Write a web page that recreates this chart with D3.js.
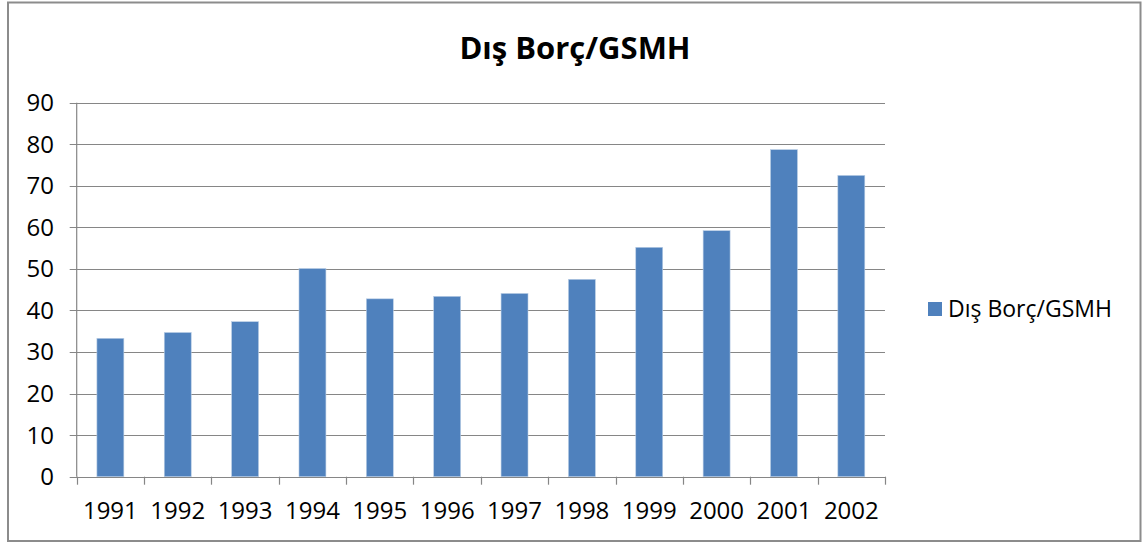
<!DOCTYPE html>
<html>
<head>
<meta charset="utf-8">
<script src="https://cdn.jsdelivr.net/npm/d3@7"></script>
<style>
  body { margin: 0; background: #fff; }
  text { font-family: "Open Sans", "Noto Sans", sans-serif; fill: #000; }
</style>
</head>
<body>
<script>
// data
var years = ["1991", "1992", "1993", "1994", "1995", "1996", "1997", "1998", "1999", "2000", "2001", "2002"];
var values = [33.3, 34.7, 37.3, 50.1, 42.8, 43.4, 44.1, 47.5, 55.2, 59.2, 78.7, 72.5];
var yTicks = [0, 10, 20, 30, 40, 50, 60, 70, 80, 90];
var seriesName = "Dış Borç/GSMH";

var W = 1142, H = 543;
var plot = {left: 76.7, right: 885, top: 102.7, bottom: 476.7};

var svg = d3.select("body").append("svg")
    .attr("width", W)
    .attr("height", H);

// outer frame
svg.append("rect")
    .attr("x", 8).attr("y", 2.5)
    .attr("width", 1132.5).attr("height", 538.5)
    .attr("fill", "#fff")
    .attr("stroke", "#8c8c8c")
    .attr("stroke-width", 2);

var x = d3.scaleBand().domain(years).range([plot.left, plot.right]).paddingInner(0.6).paddingOuter(0.3);
var xEdges = d3.scaleBand().domain(years).range([plot.left, plot.right]);
var y = d3.scaleLinear().domain([0, 90]).range([plot.bottom, plot.top]);

// gridlines
svg.append("g")
    .selectAll("line")
    .data(yTicks)
  .enter().append("line")
    .attr("x1", plot.left - 7)
    .attr("x2", plot.right)
    .attr("y1", function(d) { return Math.round(y(d)) + 0.5; })
    .attr("y2", function(d) { return Math.round(y(d)) + 0.5; })
    .attr("stroke", "#868686")
    .attr("stroke-width", 1.2);

// y labels
svg.append("g")
    .selectAll("text")
    .data(yTicks)
  .enter().append("text")
    .attr("x", 54)
    .attr("y", function(d) { return y(d); })
    .attr("dy", "0.35em")
    .attr("text-anchor", "end")
    .style("font-size", "24px")
    .text(function(d) { return d; });

// y axis line
svg.append("line")
    .attr("x1", plot.left).attr("x2", plot.left)
    .attr("y1", plot.top).attr("y2", plot.bottom)
    .attr("stroke", "#868686").attr("stroke-width", 1.2);

// x ticks at category edges
var edges = years.map(function(d) { return xEdges(d); }).concat([plot.right]);
svg.append("g")
    .selectAll("line")
    .data(edges)
  .enter().append("line")
    .attr("x1", function(d) { return Math.round(d) + 0.5; })
    .attr("x2", function(d) { return Math.round(d) + 0.5; })
    .attr("y1", plot.bottom)
    .attr("y2", plot.bottom + 8)
    .attr("stroke", "#868686").attr("stroke-width", 1.2);

// bars
svg.append("g")
    .selectAll("rect")
    .data(values)
  .enter().append("rect")
    .attr("x", function(d, i) { return x(years[i]); })
    .attr("y", function(d) { return y(d); })
    .attr("width", x.bandwidth())
    .attr("height", function(d) { return y(0) - y(d); })
    .attr("fill", "#4f81bd")
    .attr("stroke", "#b9cde5")
    .attr("stroke-width", 0.6);

// x labels
svg.append("g")
    .selectAll("text")
    .data(years)
  .enter().append("text")
    .attr("x", function(d) { return xEdges(d) + xEdges.bandwidth() / 2; })
    .attr("y", 519)
    .attr("text-anchor", "middle")
    .style("font-size", "24px")
    .text(function(d) { return d; });

// title
svg.append("text")
    .attr("x", 575)
    .attr("y", 59)
    .attr("text-anchor", "middle")
    .style("font-size", "31px")
    .style("font-weight", "bold")
    .text(seriesName);

// legend
svg.append("rect")
    .attr("x", 928).attr("y", 302)
    .attr("width", 14).attr("height", 14)
    .attr("fill", "#4f81bd");
svg.append("text")
    .attr("x", 948)
    .attr("y", 316.5)
    .style("font-size", "23px")
    .text(seriesName);
</script>
</body>
</html>
